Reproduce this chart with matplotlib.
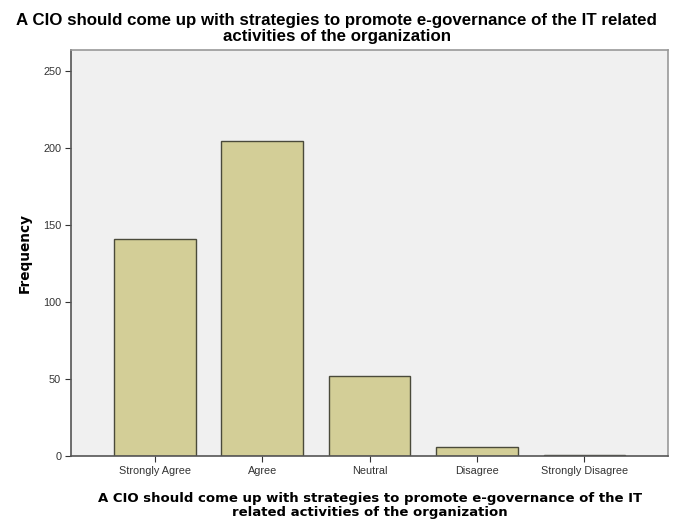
import matplotlib
matplotlib.use('Agg')
import matplotlib.pyplot as plt
import numpy as np

categories = ['Strongly Agree', 'Agree', 'Neutral', 'Disagree', 'Strongly Disagree']
frequency = [141, 205, 52, 6, 1]
yticks = [0, 50, 100, 150, 200, 250]

title = ('A CIO should come up with strategies to promote e-governance of the IT related\n'
         'activities of the organization')
xlabel = ('A CIO should come up with strategies to promote e-governance of the IT\n'
          'related activities of the organization')

fig = plt.figure(figsize=(6.75, 5.19), dpi=100)
ax = fig.add_axes([0.105, 0.121, 0.885, 0.783])
ax.set_facecolor('#f0f0f0')

x = np.arange(len(categories))
ax.bar(x, frequency, width=0.76, color='#d3ce97', edgecolor='#4a4a3a', linewidth=1.0, zorder=2)

ax.set_xlim(-0.78, 4.78)
ax.set_ylim(0, 264)
ax.set_xticks(x)
ax.set_xticklabels(categories, fontsize=7.8, color='#444444', family='Liberation Sans')
ax.set_yticks(yticks)
ax.set_yticklabels([str(v) for v in yticks], fontsize=7.8, color='#444444', family='Liberation Sans')
ax.tick_params(direction='out', length=4, width=0.8, colors='#333333', pad=3)

for side in ['top', 'right']:
    ax.spines[side].set_color('#999999')
    ax.spines[side].set_linewidth(1.2)
for side in ['left', 'bottom']:
    ax.spines[side].set_color('#555555')
    ax.spines[side].set_linewidth(1.2)

ax.set_ylabel('Frequency', fontsize=9.8, fontweight='bold', family='DejaVu Sans')
ax.yaxis.set_label_coords(-0.066, 0.5)
ax.set_xlabel(xlabel, fontsize=9.5, fontweight='bold', family='DejaVu Sans', labelpad=11.5,
              linespacing=1.15)
fig.text(0.499, 0.975, title, fontsize=12.2, fontweight='bold', family='Liberation Sans',
         ha='center', va='top', linespacing=1.05)

fig.savefig('out.png', dpi=100)
